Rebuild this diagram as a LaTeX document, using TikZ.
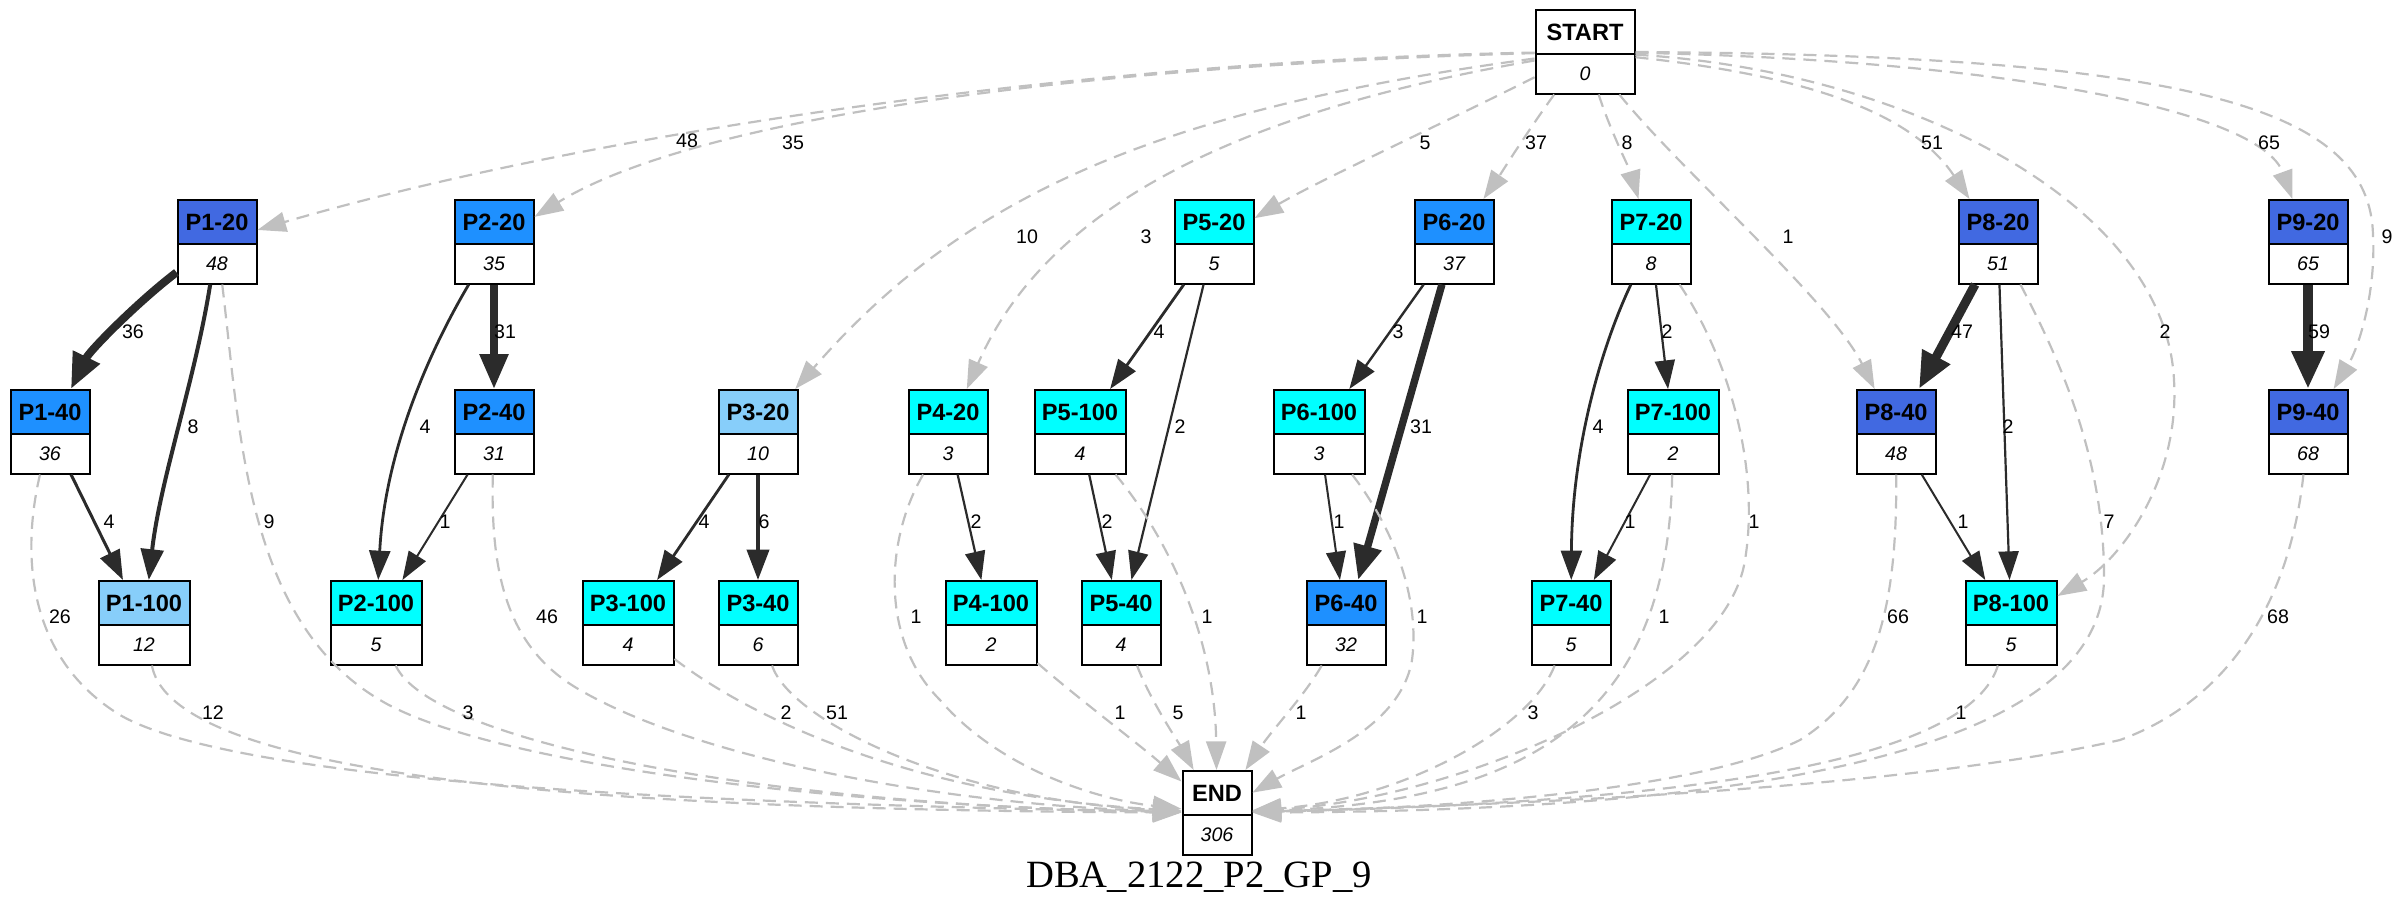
\documentclass[tikz,border=0pt]{standalone}
\usepackage{fontspec}
\setmainfont{Liberation Sans}
\newfontfamily\titlefont{Liberation Serif}
\usetikzlibrary{arrows.meta, shapes.multipart}
\definecolor{royal}{HTML}{4169E1}
\definecolor{dodger}{HTML}{1E90FF}
\definecolor{skylite}{HTML}{87CEFA}
\definecolor{aqua}{HTML}{00FFFF}
\definecolor{silver}{HTML}{C0C0C0}
\definecolor{ink}{HTML}{2B2B2B}
\newcommand{\rechead}[1]{\parbox[c][21pt][c]{0pt}{\centering\makebox[0pt]{\bfseries #1}}}
\newcommand{\recval}[1]{\parbox[c][18.75pt][c]{0pt}{\centering\makebox[0pt]{\fontsize{9.8}{11}\selectfont\itshape #1}}}

\begin{document}
\begin{tikzpicture}[x=0.5pt, y=-0.5pt,
        rec/.style={rectangle split, rectangle split parts=2, draw=black, line width=1pt, inner sep=0pt, minimum width=39.5pt, rectangle split part fill={#1,white}, anchor=north, font=\fontsize{11.8}{13}\selectfont},
        recw/.style={rec=#1, minimum width=45.5pt},
        flow/.style={draw=ink, line width=#1, -{Triangle[length=13pt 1.2, width=8.5pt 1.4]}},
        jump/.style={draw=silver, line width=1.1pt, dash pattern=on 6.5pt off 4pt, -{Triangle[length=13pt 1.2, width=8.5pt 1.4]}},
        elab/.style={font=\fontsize{9.8}{11}\selectfont, inner sep=0pt},
    ]
        \useasboundingbox (0,0) rectangle (2400,916);

        \node[rec=white, minimum width=49.5pt] (START) at (1585,9) {\rechead{START}\nodepart{two}\recval{0}};
        \node[rec=royal] (p1-20) at (217,199) {\rechead{P1-20}\nodepart{two}\recval{48}};
        \node[rec=dodger] (p2-20) at (494,199) {\rechead{P2-20}\nodepart{two}\recval{35}};
        \node[rec=aqua] (p5-20) at (1214,199) {\rechead{P5-20}\nodepart{two}\recval{5}};
        \node[rec=dodger] (p6-20) at (1454,199) {\rechead{P6-20}\nodepart{two}\recval{37}};
        \node[rec=aqua] (p7-20) at (1651,199) {\rechead{P7-20}\nodepart{two}\recval{8}};
        \node[rec=royal] (p8-20) at (1998,199) {\rechead{P8-20}\nodepart{two}\recval{51}};
        \node[rec=royal] (p9-20) at (2308,199) {\rechead{P9-20}\nodepart{two}\recval{65}};
        \node[rec=dodger] (p1-40) at (50,389) {\rechead{P1-40}\nodepart{two}\recval{36}};
        \node[rec=dodger] (p2-40) at (494,389) {\rechead{P2-40}\nodepart{two}\recval{31}};
        \node[rec=skylite] (p3-20) at (758,389) {\rechead{P3-20}\nodepart{two}\recval{10}};
        \node[rec=aqua] (p4-20) at (948,389) {\rechead{P4-20}\nodepart{two}\recval{3}};
        \node[recw=aqua] (p5-100) at (1080,389) {\rechead{P5-100}\nodepart{two}\recval{4}};
        \node[recw=aqua] (p6-100) at (1319,389) {\rechead{P6-100}\nodepart{two}\recval{3}};
        \node[recw=aqua] (p7-100) at (1673,389) {\rechead{P7-100}\nodepart{two}\recval{2}};
        \node[rec=royal] (p8-40) at (1896,389) {\rechead{P8-40}\nodepart{two}\recval{48}};
        \node[rec=royal] (p9-40) at (2308,389) {\rechead{P9-40}\nodepart{two}\recval{68}};
        \node[recw=skylite] (p1-100) at (144,580) {\rechead{P1-100}\nodepart{two}\recval{12}};
        \node[recw=aqua] (p2-100) at (376,580) {\rechead{P2-100}\nodepart{two}\recval{5}};
        \node[recw=aqua] (p3-100) at (628,580) {\rechead{P3-100}\nodepart{two}\recval{4}};
        \node[rec=aqua] (p3-40) at (758,580) {\rechead{P3-40}\nodepart{two}\recval{6}};
        \node[recw=aqua] (p4-100) at (991,580) {\rechead{P4-100}\nodepart{two}\recval{2}};
        \node[rec=aqua] (p5-40) at (1121,580) {\rechead{P5-40}\nodepart{two}\recval{4}};
        \node[rec=dodger] (p6-40) at (1346,580) {\rechead{P6-40}\nodepart{two}\recval{32}};
        \node[rec=aqua] (p7-40) at (1571,580) {\rechead{P7-40}\nodepart{two}\recval{5}};
        \node[recw=aqua] (p8-100) at (2011,580) {\rechead{P8-100}\nodepart{two}\recval{5}};
        \node[rec=white, minimum width=34.5pt] (END) at (1217,770) {\rechead{END}\nodepart{two}\recval{306}};
        \node[font=\titlefont\fontsize{19.3}{22}\selectfont, anchor=base] (title) at (1199,887) {DBA\_2122\_P2\_GP\_9};

        % Entry edges from START
        \draw[jump] (START) .. controls (1100,60) and (600,130) .. (p1-20) node[elab] at (687,141) {48};
        \draw[jump] (START) .. controls (1100,65) and (700,115) .. (p2-20) node[elab] at (793,143) {35};
        \draw[jump] (START) .. controls (1150,110) and (960,200) .. (p3-20) node[elab] at (1027,237) {10};
        \draw[jump] (START) .. controls (1250,110) and (1050,200) .. (p4-20) node[elab] at (1146,237) {3};
        \draw[jump] (START) .. controls (1450,120) and (1320,180) .. (p5-20) node[elab] at (1425,143) {5};
        \draw[jump] (START) .. controls (1525,135) and (1500,175) .. (p6-20) node[elab] at (1536,143) {37};
        \draw[jump] (START) .. controls (1610,130) and (1630,170) .. (p7-20) node[elab] at (1627,143) {8};
        \draw[jump] (START) .. controls (1680,170) and (1830,300) .. (p8-40) node[elab] at (1788,237) {1};
        \draw[jump] (START) .. controls (1800,75) and (1910,110) .. (p8-20) node[elab] at (1932,143) {51};
        \draw[jump] (START) .. controls (1900,70) and (2165,200) .. (2174,380) .. controls (2180,480) and (2120,560) .. (p8-100) node[elab] at (2165,332) {2};
        \draw[jump] (START) .. controls (2000,60) and (2260,110) .. (p9-20) node[elab] at (2269,143) {65};
        \draw[jump] (START) .. controls (2200,55) and (2370,110) .. (2373,235) .. controls (2376,290) and (2360,345) .. (p9-40) node[elab] at (2387,237) {9};

        % Transitions between stages
        \draw[flow=4pt] (p1-20) .. controls (140,300) and (90,350) .. (p1-40) node[elab] at (133,332) {36};
        \draw[flow=2pt] (p1-20) .. controls (195,380) and (160,480) .. (p1-100) node[elab] at (193,427) {8};
        \draw[flow=1.5pt] (p1-40) -- (p1-100) node[elab] at (109,522) {4};
        \draw[flow=3.7pt] (p2-20) -- (p2-40) node[elab] at (505,332) {31};
        \draw[flow=1.4pt] (p2-20) .. controls (430,350) and (385,450) .. (p2-100) node[elab] at (425,427) {4};
        \draw[flow=1pt] (p2-40) -- (p2-100) node[elab] at (445,522) {1};
        \draw[flow=1.4pt] (p3-20) -- (p3-100) node[elab] at (704,522) {4};
        \draw[flow=1.8pt] (p3-20) -- (p3-40) node[elab] at (764,522) {6};
        \draw[flow=1.1pt] (p4-20) -- (p4-100) node[elab] at (976,522) {2};
        \draw[flow=1.4pt] (p5-20) -- (p5-100) node[elab] at (1159,332) {4};
        \draw[flow=1.1pt] (p5-20) -- (p5-40) node[elab] at (1180,427) {2};
        \draw[flow=1.1pt] (p5-100) -- (p5-40) node[elab] at (1107,522) {2};
        \draw[flow=1.2pt] (p6-20) -- (p6-100) node[elab] at (1398,332) {3};
        \draw[flow=3.7pt] (p6-20) -- (p6-40) node[elab] at (1421,427) {31};
        \draw[flow=1pt] (p6-100) -- (p6-40) node[elab] at (1339,522) {1};
        \draw[flow=1.4pt] (p7-20) .. controls (1600,350) and (1572,450) .. (p7-40) node[elab] at (1598,427) {4};
        \draw[flow=1.1pt] (p7-20) -- (p7-100) node[elab] at (1667,332) {2};
        \draw[flow=1pt] (p7-100) -- (p7-40) node[elab] at (1630,522) {1};
        \draw[flow=4.5pt] (p8-20) -- (p8-40) node[elab] at (1962,332) {47};
        \draw[flow=1.1pt] (p8-20) -- (p8-100) node[elab] at (2008,427) {2};
        \draw[flow=1pt] (p8-40) -- (p8-100) node[elab] at (1963,522) {1};
        \draw[flow=5pt] (p9-20) -- (p9-40) node[elab] at (2319,332) {59};

        % Exit edges into END
        \draw[jump] (p1-20) .. controls (240,430) and (245,620) .. (380,700) .. controls (480,760) and (800,805) .. (END) node[elab] at (269,522) {9};
        \draw[jump] (p1-40) .. controls (20,560) and (30,660) .. (120,715) .. controls (250,790) and (800,805) .. (END) node[elab] at (60,617) {26};
        \draw[jump] (p1-100) .. controls (175,790) and (700,810) .. (END) node[elab] at (213,713) {12};
        \draw[jump] (p2-40) .. controls (490,580) and (510,650) .. (580,690) .. controls (700,760) and (950,805) .. (END) node[elab] at (547,617) {46};
        \draw[jump] (p2-100) .. controls (430,740) and (750,805) .. (END) node[elab] at (468,713) {3};
        \draw[jump] (p3-100) .. controls (740,710) and (900,795) .. (END) node[elab] at (786,713) {2};
        \draw[jump] (p3-40) .. controls (790,720) and (950,800) .. (END) node[elab] at (837,713) {51};
        \draw[jump] (p4-20) .. controls (885,540) and (880,640) .. (940,700) .. controls (1000,770) and (1100,800) .. (END) node[elab] at (916,617) {1};
        \draw[jump] (p4-100) .. controls (1080,700) and (1140,745) .. (END) node[elab] at (1120,713) {1};
        \draw[jump] (p5-100) .. controls (1170,540) and (1215,640) .. (END) node[elab] at (1207,617) {1};
        \draw[jump] (p5-40) .. controls (1150,700) and (1180,745) .. (END) node[elab] at (1178,713) {5};
        \draw[jump] (p6-100) .. controls (1395,530) and (1420,600) .. (1412,660) .. controls (1400,730) and (1310,760) .. (END) node[elab] at (1422,617) {1};
        \draw[jump] (p6-40) .. controls (1305,695) and (1272,730) .. (END) node[elab] at (1301,713) {1};
        \draw[jump] (p7-20) .. controls (1730,360) and (1760,470) .. (1745,560) .. controls (1725,690) and (1450,800) .. (END) node[elab] at (1754,522) {1};
        \draw[jump] (p7-100) .. controls (1668,700) and (1550,800) .. (END) node[elab] at (1664,617) {1};
        \draw[jump] (p7-40) .. controls (1530,730) and (1400,800) .. (END) node[elab] at (1533,713) {3};
        \draw[jump] (p8-20) .. controls (2060,360) and (2105,460) .. (2104,580) .. controls (2100,740) and (1800,810) .. (END) node[elab] at (2109,522) {7};
        \draw[jump] (p8-40) .. controls (1897,600) and (1880,690) .. (1800,740) .. controls (1700,790) and (1450,808) .. (END) node[elab] at (1898,617) {66};
        \draw[jump] (p8-100) .. controls (1975,740) and (1800,800) .. (END) node[elab] at (1961,713) {1};
        \draw[jump] (p9-40) .. controls (2290,600) and (2230,700) .. (2120,740) .. controls (1900,790) and (1500,805) .. (END) node[elab] at (2278,617) {68};
    \end{tikzpicture}
\end{document}
